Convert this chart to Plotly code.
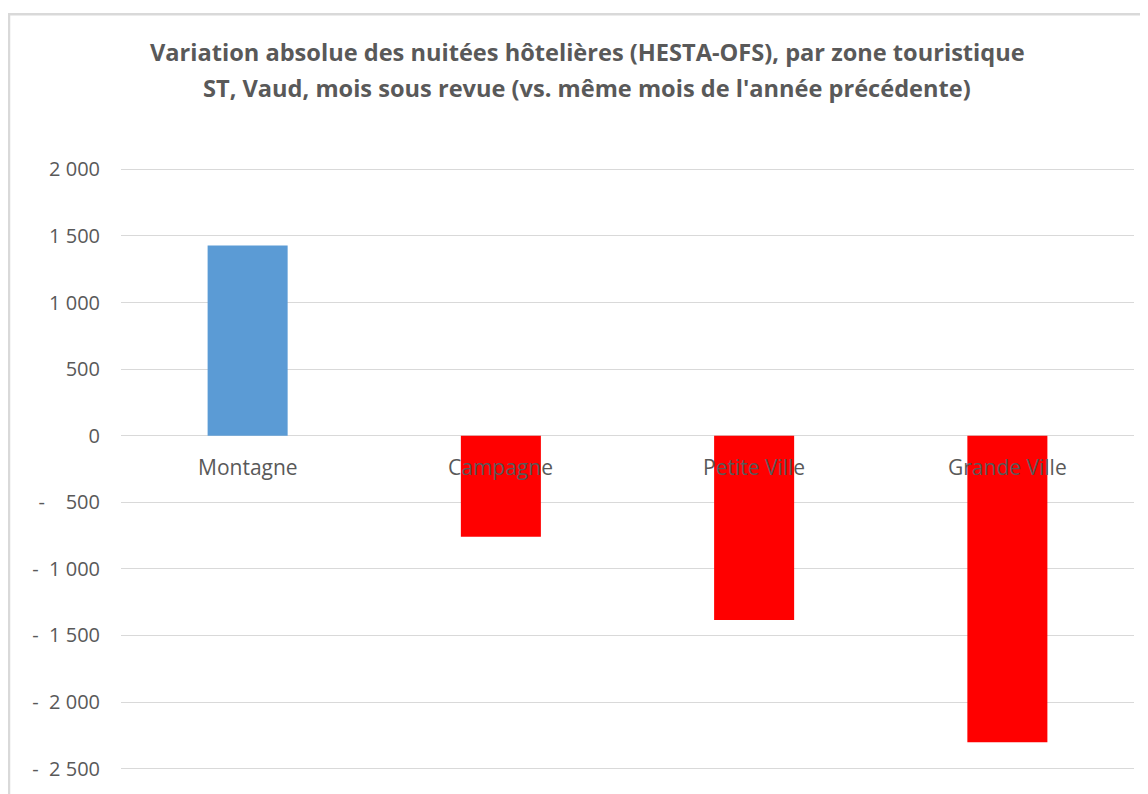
import plotly.graph_objects as go

# ---- data ----
categories = ["Montagne", "Campagne", "Petite Ville", "Grande Ville"]
variation = [1428, -759, -1383, -2302]
tick_values = [2000, 1500, 1000, 500, 0, -500, -1000, -1500, -2000, -2500]
tick_labels = ["2 000", "1 500", "1 000", "500", "0", "-    500", "-  1 000", "-  1 500", "-  2 000", "-  2 500"]
title_line1 = "Variation absolue des nuitées hôtelières (HESTA-OFS), par zone touristique"
title_line2 = "ST, Vaud, mois sous revue (vs. même mois de l'année précédente)"

BLUE = "#5B9BD5"
RED = "#FF0000"
GREY_TXT = "#595959"
GRID = "#D9D9D9"
FONT = "Open Sans"

OFF = 8  # page body margin
W, H = 1148 - OFF, 794 - OFF
# plot area in window pixels: x 121..1134, y(2000)=169 .. y(-2500)=772
px_per_unit = (772 - 169) / 4500.0
PAD_U = 10
L = 121 - OFF
R = 1148 - 1134
T = round(169 - OFF - PAD_U * px_per_unit)
B = round(794 - 772 - PAD_U * px_per_unit)
pw, ph = W - L - R, H - T - B

def px_x(xw):
    return (xw - OFF - L) / pw

def px_y(yw):
    return (H - B - (yw - OFF)) / ph

fig = go.Figure()
fig.add_trace(go.Bar(
    x=categories,
    y=variation,
    marker=dict(color=[BLUE if v >= 0 else RED for v in variation], line=dict(width=0)),
    hoverinfo="x+y",
))

annotations = []
for c in categories:
    annotations.append(dict(
        x=c, y=0, xref="x", yref="y", text=c, showarrow=False,
        yshift=-31, font=dict(family=FONT, size=21, color=GREY_TXT),
    ))
for txt, yw in ((title_line1, 51), (title_line2, 88)):
    annotations.append(dict(
        x=px_x(587), y=px_y(yw), xref="paper", yref="paper", text=txt,
        showarrow=False, xanchor="center", yanchor="middle",
        font=dict(family=FONT, size=23.6, color=GREY_TXT, weight="bold"),
    ))

shapes = [
    dict(type="line", xref="paper", yref="paper",
         x0=px_x(9), x1=px_x(9), y0=px_y(13), y1=px_y(800),
         line=dict(color=GRID, width=2.5)),
    dict(type="line", xref="paper", yref="paper",
         x0=px_x(8), x1=px_x(1160), y0=px_y(13.5), y1=px_y(13.5),
         line=dict(color=GRID, width=2.5)),
]

fig.update_layout(
    width=W, height=H,
    margin=dict(l=L, r=R, t=T, b=B, pad=0),
    paper_bgcolor="white", plot_bgcolor="white",
    showlegend=False,
    bargap=0.684,
    annotations=annotations,
    shapes=shapes,
    font=dict(family=FONT, color=GREY_TXT),
    xaxis=dict(showticklabels=False, showgrid=False, zeroline=False, showline=False, ticks=""),
    yaxis=dict(
        range=[-2500 - PAD_U, 2000 + PAD_U],
        tickvals=tick_values, ticktext=tick_labels,
        tickfont=dict(family=FONT, size=20, color=GREY_TXT),
        showgrid=True, gridcolor=GRID, gridwidth=1,
        zeroline=True, zerolinecolor=GRID, zerolinewidth=1,
        showline=False, ticks="", ticklabelstandoff=20,
    ),
)

fig.write_html("out.html")
